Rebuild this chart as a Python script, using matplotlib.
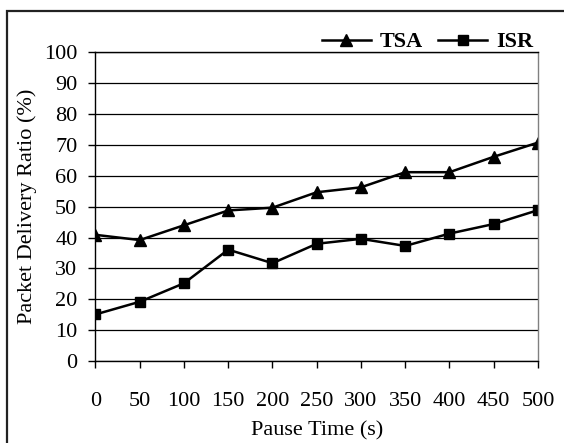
import matplotlib.pyplot as plt
import matplotlib.patches as mpatches

plt.rcParams['font.family'] = ['Liberation Serif', 'DejaVu Serif']

# pause time (s)
pause = [0, 50, 100, 150, 200, 250, 300, 350, 400, 450, 500]
tsa = [40.9, 39.2, 44.0, 48.8, 49.7, 54.7, 56.3, 61.2, 61.2, 66.2, 70.8]
isr = [15.1, 19.2, 25.2, 36.1, 31.7, 38.0, 39.6, 37.3, 41.3, 44.4, 48.9]
yticks = list(range(0, 101, 10))

fig = plt.figure(figsize=(5.64, 4.43), dpi=100)
ax = fig.add_axes([0.1693, 0.1851, 0.7846, 0.6964])

ax.plot(pause, tsa, color='black', lw=1.8, marker='^', ms=9, label='TSA')
ax.plot(pause, isr, color='black', lw=1.8, marker='s', ms=7.5, label='ISR')

ax.set_xlim(0, 500)
ax.set_ylim(0, 100)
ax.set_xticks(pause)
ax.set_yticks(yticks)
ax.yaxis.grid(True, color='black', lw=0.9)
ax.set_axisbelow(True)

for side in ['left', 'bottom', 'top']:
    ax.spines[side].set_color('black')
    ax.spines[side].set_linewidth(1.0)
ax.spines['right'].set_color('#808080')
ax.spines['right'].set_linewidth(1.0)

ax.tick_params(axis='x', direction='out', length=5, width=1, pad=17.5, labelsize=16)
ax.tick_params(axis='y', direction='out', length=5, width=1, pad=8, labelsize=16)

ax.set_xlabel('Pause Time (s)', fontsize=16, labelpad=7)
ax.set_ylabel('Packet Delivery Ratio (%)', fontsize=16, labelpad=5)

leg = ax.legend(loc='center right', bbox_to_anchor=(0.989, 1.034), ncol=2,
                frameon=False, handlelength=2.2, handletextpad=0.4,
                columnspacing=0.7, borderaxespad=0, borderpad=0,
                prop={'weight': 'bold', 'size': 16})

# outer frame around the chart
border = mpatches.Rectangle((7.3 / 564, -0.1), 1.2, (443 - 11) / 443 + 0.1,
                            transform=fig.transFigure, fill=False,
                            edgecolor='#222222', lw=1.6)
fig.patches.append(border)

fig.savefig('out.png', dpi=100)
